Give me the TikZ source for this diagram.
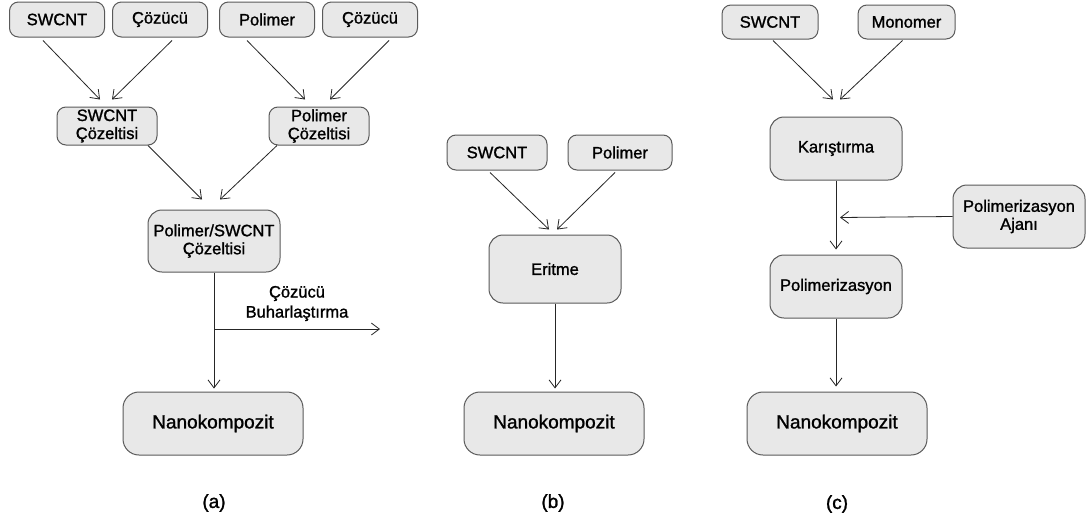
\documentclass[tikz,border=0pt]{standalone}
\usepackage{fontspec}
\setmainfont{Liberation Sans}[UprightFeatures={FakeBold=1.3}]
\usetikzlibrary{arrows.meta,calc}
\definecolor{boxfill}{HTML}{E8E8E8}
\definecolor{boxline}{HTML}{5A5A5A}
\tikzset{
  box/.style={draw=boxline, line width=1pt, fill=boxfill, rounded corners=9pt,
    inner sep=0pt, align=center, font=\fontsize{16.5}{18}\selectfont},
  bigbox/.style={box, rounded corners=16pt, font=\fontsize{19}{22}\selectfont,
    minimum width=180pt, minimum height=63pt},
  arr/.style={draw=black!85, line width=0.8pt, -{Straight Barb[length=8pt,width=12pt,line width=0.8pt]}},
  lbl/.style={font=\fontsize{19}{22}\selectfont, inner sep=0pt},
  note/.style={font=\fontsize{16.5}{20}\selectfont, align=center, inner sep=0pt}
}
\begin{document}
\begin{tikzpicture}[x=1pt,y=-1pt]
\useasboundingbox[fill=white] (0,0) rectangle (1086,522);
% ---------- (a)
\node[box, minimum width=95pt, minimum height=35pt] (a1) at (57,19.5) {SWCNT};
\node[box, minimum width=95pt, minimum height=35pt] (a2) at (160,19.5) {Çözücü};
\node[box, minimum width=95pt, minimum height=35pt] (a3) at (267,19.5) {Polimer};
\node[box, minimum width=95pt, minimum height=35pt] (a4) at (370,19.5) {Çözücü};
\node[box, minimum width=100pt, minimum height=38pt] (a5) at (107,126) {SWCNT\\Çözeltisi};
\node[box, minimum width=100pt, minimum height=38pt] (a6) at (319,126) {Polimer\\Çözeltisi};
\node[box, rounded corners=14pt, minimum width=132pt, minimum height=62pt] (a7) at (214,241) {Polimer/SWCNT\\Çözeltisi};
\node[bigbox] (a8) at (213,423.5) {Nanokompozit};
\draw[arr] ([xshift=-14pt,yshift=-3pt]a1.south) -- ([xshift=-7pt,yshift=7pt]a5.north);
\draw[arr] ([xshift=12pt,yshift=-3pt]a2.south) -- ([xshift=5pt,yshift=7pt]a5.north);
\draw[arr] ([xshift=-20pt,yshift=-3pt]a3.south) -- ([xshift=-14pt,yshift=7pt]a6.north);
\draw[arr] ([xshift=19pt,yshift=-3pt]a4.south) -- ([xshift=11pt,yshift=7pt]a6.north);
\draw[arr] ([xshift=41pt]a5.south) -- ([xshift=-12pt,yshift=10pt]a7.north);
\draw[arr] ([xshift=-42pt]a6.south) -- ([xshift=6pt,yshift=10pt]a7.north);
\draw[arr, shorten >=3pt] (a7.south) -- (a7.south |- a8.north);
\coordinate (abr) at (214,329);
\coordinate (aout) at (380,329);
\draw[arr] (abr) -- (aout);
\node[note] (anote) at (297,303.5) {Çözücü\\Buharlaştırma};
\node[lbl] (la) at (214,503) {(a)};
% ---------- (b)
\node[box, minimum width=100pt, minimum height=35pt] (b1) at (497,152.5) {SWCNT};
\node[box, minimum width=104pt, minimum height=35pt] (b2) at (620,152.5) {Polimer};
\node[box, rounded corners=14pt, minimum width=132pt, minimum height=68pt] (b3) at (555,269) {Eritme};
\node[bigbox] (b4) at (554,423.5) {Nanokompozit};
\draw[arr] ([xshift=-7pt,yshift=-2pt]b1.south) -- ([xshift=-6pt,yshift=5pt]b3.north);
\draw[arr] ([xshift=-5pt,yshift=-2pt]b2.south) -- ([xshift=2pt,yshift=5pt]b3.north);
\draw[arr, shorten >=3pt] (b3.south) -- (b3.south |- b4.north);
\node[lbl] (lb) at (553,503) {(b)};
% ---------- (c)
\node[box, minimum width=96pt, minimum height=34pt] (c1) at (770,22) {SWCNT};
\node[box, minimum width=97pt, minimum height=34pt] (c2) at (906.5,22) {Monomer};
\node[box, rounded corners=14pt, minimum width=132pt, minimum height=63pt] (c3) at (836,148.5) {Karıştırma};
\node[box, rounded corners=14pt, minimum width=132pt, minimum height=63pt] (c4) at (1019,216.5) {Polimerizasyon\\Ajanı};
\node[box, rounded corners=14pt, minimum width=132pt, minimum height=63pt] (c5) at (836,286.5) {Polimerizasyon};
\node[bigbox] (c6) at (837,423.5) {Nanokompozit};
\draw[arr] ([xshift=3pt,yshift=-1pt]c1.south) -- ([xshift=-3pt,yshift=17pt]c3.north);
\draw[arr] ([xshift=-4pt,yshift=-1pt]c2.south) -- ([xshift=4pt,yshift=17pt]c3.north);
\draw[arr, shorten >=5pt] (c3.south) -- (c5.north);
\coordinate (cm) at ($(c3.south)!0.5!(c5.north)$);
\draw[arr] (c4.west) -- ([xshift=4pt]cm);
\draw[arr, shorten >=5pt] (c5.south) -- (c5.south |- c6.north);
\node[lbl] (lc) at (837,504) {(c)};
\end{tikzpicture}
\end{document}
